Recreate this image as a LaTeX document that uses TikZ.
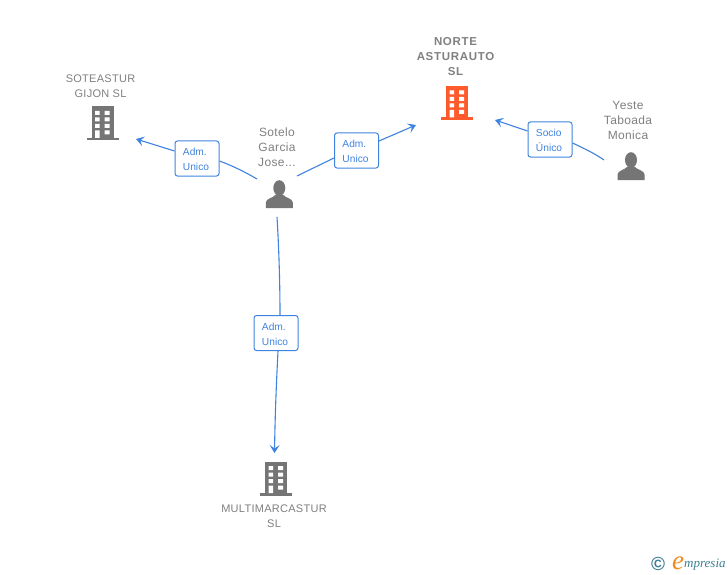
\documentclass[tikz,border=0pt]{standalone}
\usepackage{fontspec}
\setmainfont{Liberation Sans}
\newfontfamily\logofont{Liberation Serif}
\usetikzlibrary{arrows.meta}
\definecolor{edgeblue}{HTML}{3F83E0}
\definecolor{txtgray}{HTML}{808080}
\definecolor{icongray}{HTML}{757575}
\definecolor{iconred}{HTML}{FF5A2B}
\definecolor{logoteal}{HTML}{3E7F93}
\definecolor{logoorange}{HTML}{F08A1D}
\newcommand{\lbfirst}[1]{\rule{0pt}{9.5pt}#1\kern2pt}
\newcommand{\lbline}[1]{#1\kern2pt}
\tikzset{
  x=1pt,y=-1pt,
  edgeline/.style={draw=edgeblue,line width=1.1pt},
  edgearrow/.style={edgeline,-{Stealth[length=8pt,width=10pt,inset=3.5pt]}},
  edgelabel/.style={draw=edgeblue,line width=1pt,fill=white,rounded corners=2.5pt,
    minimum width=44pt,minimum height=35pt,inner sep=0pt,text=edgeblue,
    font=\fontsize{10.2}{15}\selectfont,align=left},
  nametext/.style={text=txtgray,font=\fontsize{12}{15}\selectfont\addfontfeature{LetterSpace=3},align=center,inner sep=0pt},
  companytext/.style={nametext,font=\fontsize{11}{15}\selectfont\addfontfeature{LetterSpace=2.5}},
  boldtext/.style={nametext,font=\fontsize{11.5}{15}\selectfont\bfseries\addfontfeature{LetterSpace=6}},
  iconbox/.style={inner sep=0pt,minimum width=30pt,minimum height=32pt},
  pics/building/.style={code={
    \fill[#1] (-11,-17) rectangle (11,14.5);
    \fill[#1] (-16,14.5) rectangle (16,17);
    \fill[white] (-7.5,-12.5) rectangle (-2.8,-8.5) (2.2,-12.5) rectangle (7.2,-8.5)
      (-7.5,-6) rectangle (-2.8,-2) (2.2,-6) rectangle (7.2,-2)
      (-7.5,0.5) rectangle (-2.8,4.5) (2.2,0.5) rectangle (7.2,4.5)
      (-7.5,7) rectangle (-2.8,14.5) (2.2,7) rectangle (7.2,11);
  }},
  pics/person/.style={code={
    \fill[icongray] (0,-7.5) ellipse (6 and 7.8);
    \fill[icongray] (-13.5,12.5) -- (-13.5,7) .. controls (-13.5,3) and (-6,2.5) .. (-3.5,-1)
      -- (3.5,-1) .. controls (6,2.5) and (13.5,3) .. (13.5,7) -- (13.5,12.5) -- cycle;
  }}
}
\begin{document}
\begin{tikzpicture}
\useasboundingbox (0,0) rectangle (728,575);
\fill[white] (0,0) rectangle (728,575);

% icons
\node[iconbox] (soteastur) at (102.5,123.5) {};
\pic at (soteastur) {building=icongray};
\node[iconbox] (norte) at (457,103) {};
\pic at (norte) {building=iconred};
\node[iconbox] (multi) at (276,478.5) {};
\pic at (multi) {building=icongray};
\node[iconbox] (sotelo) at (279.3,195.5) {};
\pic at (sotelo) {person};
\node[iconbox] (yeste) at (631,167.5) {};
\pic at (yeste) {person};

% texts
\node[companytext] (soteasturT) at (100.5,86) {SOTEASTUR\\GIJON SL};
\node[boldtext] (norteT) at (455.5,57) {NORTE\\ASTURAUTO\\SL};
\node[companytext] (multiT) at (274,516) {MULTIMARCASTUR\\SL};
\node[nametext] (soteloT) at (277,147.5) {Sotelo\\Garcia\\Jose...};
\node[nametext] (yesteT) at (628,120) {Yeste\\Taboada\\Monica};

% labels
\node[edgelabel] (l1) at (197,158.5) {\lbfirst{Adm.}\\\lbline{Unico}};
\node[edgelabel] (l2) at (356.5,150.5) {\lbfirst{Adm.}\\\lbline{Unico}};
\node[edgelabel] (l3) at (276,333) {\lbfirst{Adm.}\\\lbline{Unico}};
\node[edgelabel] (l4) at (550,139.5) {\lbfirst{Socio}\\\lbline{Único}};

% connector ends
\coordinate (s1) at (257,179);
\coordinate (s2) at (297,176);
\coordinate (s3) at (277,217);
\coordinate (y1) at (604,160);
\coordinate (t1) at (136,139);
\coordinate (t2) at (416,125);
\coordinate (t3) at (274.5,453);
\coordinate (t4) at (495,120);

% connectors
\draw[edgeline] (s1) .. controls (245,172) and (233,166) .. (l1.east |- 0,161);
\draw[edgearrow] (l1.west |- 0,151) -- (t1);
\draw[edgeline] (s2) -- (l2.west |- 0,158);
\draw[edgearrow] (l2.east |- 0,141) -- (t2);
\draw[edgeline] (s3) .. controls (279,250) and (280,285) .. (l3.north -| 280,0);
\draw[edgearrow] (l3.south -| 278,0) .. controls (276,390) and (275,420) .. (t3);
\draw[edgeline] (y1) .. controls (594,153) and (583,148) .. (l4.east |- 0,143);
\draw[edgearrow] (l4.west |- 0,131) -- (t4);

% logo
\node[text=logoteal,inner sep=0pt,font=\fontsize{19}{19}\selectfont\bfseries] (logoC) at (658,564) {©};
\node[text=logoorange,inner sep=0pt,font=\logofont\itshape\fontsize{27}{27}\selectfont] (logoE) at (678,563) {e};
\node[text=logoteal,inner sep=0pt,anchor=west,font=\logofont\itshape\fontsize{13}{13}\selectfont] (logoW) at (684,565) {mpresia};
\end{tikzpicture}
\end{document}
